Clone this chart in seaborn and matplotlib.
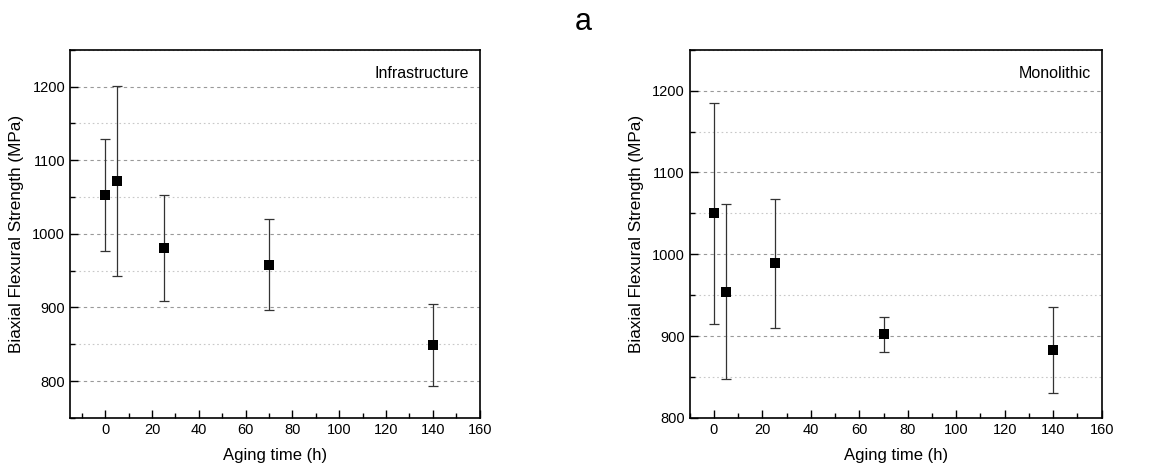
import numpy as np
import pandas as pd
import matplotlib
matplotlib.use("Agg")
import matplotlib.pyplot as plt
import seaborn as sns
from matplotlib.ticker import MultipleLocator

# aging time (h)
aging_time = [0, 5, 25, 70, 140]

# Infrastructure: mean and error (MPa)
infra_mean = [1053, 1072, 981, 958, 849]
infra_err = [76, 129, 72, 62, 56]

# Monolithic: mean and error (MPa)
mono_mean = [1050, 954, 989, 902, 883]
mono_err = [135, 107, 79, 21, 53]

sns.set_theme(style="white")
plt.rcParams['font.family'] = ['Liberation Sans', 'DejaVu Sans']
plt.rcParams['text.color'] = 'black'
plt.rcParams['axes.labelcolor'] = 'black'

fig = plt.figure(figsize=(11.67, 4.70), dpi=100)
ax1 = fig.add_axes([0.060, 0.111, 0.351, 0.783])
ax2 = fig.add_axes([0.591, 0.111, 0.353, 0.783])

panels = [
    (ax1, infra_mean, infra_err, "Infrastructure", (-15, 160), (750, 1250)),
    (ax2, mono_mean, mono_err, "Monolithic", (-10, 160), (800, 1250)),
]

for ax, mean, err, label, xlim, ylim in panels:
    df = pd.DataFrame({"time": aging_time, "strength": mean})
    ax.errorbar(aging_time, mean, yerr=err, fmt="none", ecolor="#333333",
                elinewidth=0.9, capsize=3.8, capthick=0.9, zorder=2)
    sns.scatterplot(data=df, x="time", y="strength", ax=ax, marker="s",
                    color="black", s=42, edgecolor="black", linewidth=0, zorder=3)
    ax.set_xlim(*xlim)
    ax.set_ylim(*ylim)
    ax.xaxis.set_major_locator(MultipleLocator(20))
    ax.xaxis.set_minor_locator(MultipleLocator(10))
    ax.yaxis.set_major_locator(MultipleLocator(100))
    ax.yaxis.set_minor_locator(MultipleLocator(50))
    ax.set_yticks([800, 900, 1000, 1100, 1200])
    ax.tick_params(which="both", direction="in", bottom=True, left=True,
                   top=False, right=False, labelsize=10.5, colors="black")
    ax.tick_params(which="major", length=6, width=1)
    ax.tick_params(which="minor", length=3.5, width=1)
    ax.grid(which="major", axis="y", linestyle=(0, (3, 3)), color="#999999", linewidth=0.8)
    ax.grid(which="minor", axis="y", linestyle=(0, (1.5, 2.5)), color="#c8c8c8", linewidth=0.8)
    ax.grid(which="both", axis="x", visible=False)
    ax.set_axisbelow(True)
    for sp in ax.spines.values():
        sp.set_color("black")
        sp.set_linewidth(1.2)
    ax.set_xlabel("Aging time (h)", fontsize=12, labelpad=8)
    ax.set_ylabel("Biaxial Flexural Strength (MPa)", fontsize=12.3, labelpad=6)
    ax.text(0.975, 0.955, label, transform=ax.transAxes, ha="right", va="top",
            fontsize=11.5)

fig.text(0.5, 0.953, "a", ha="center", va="center", fontsize=22)

fig.savefig("out.png", dpi=100)
